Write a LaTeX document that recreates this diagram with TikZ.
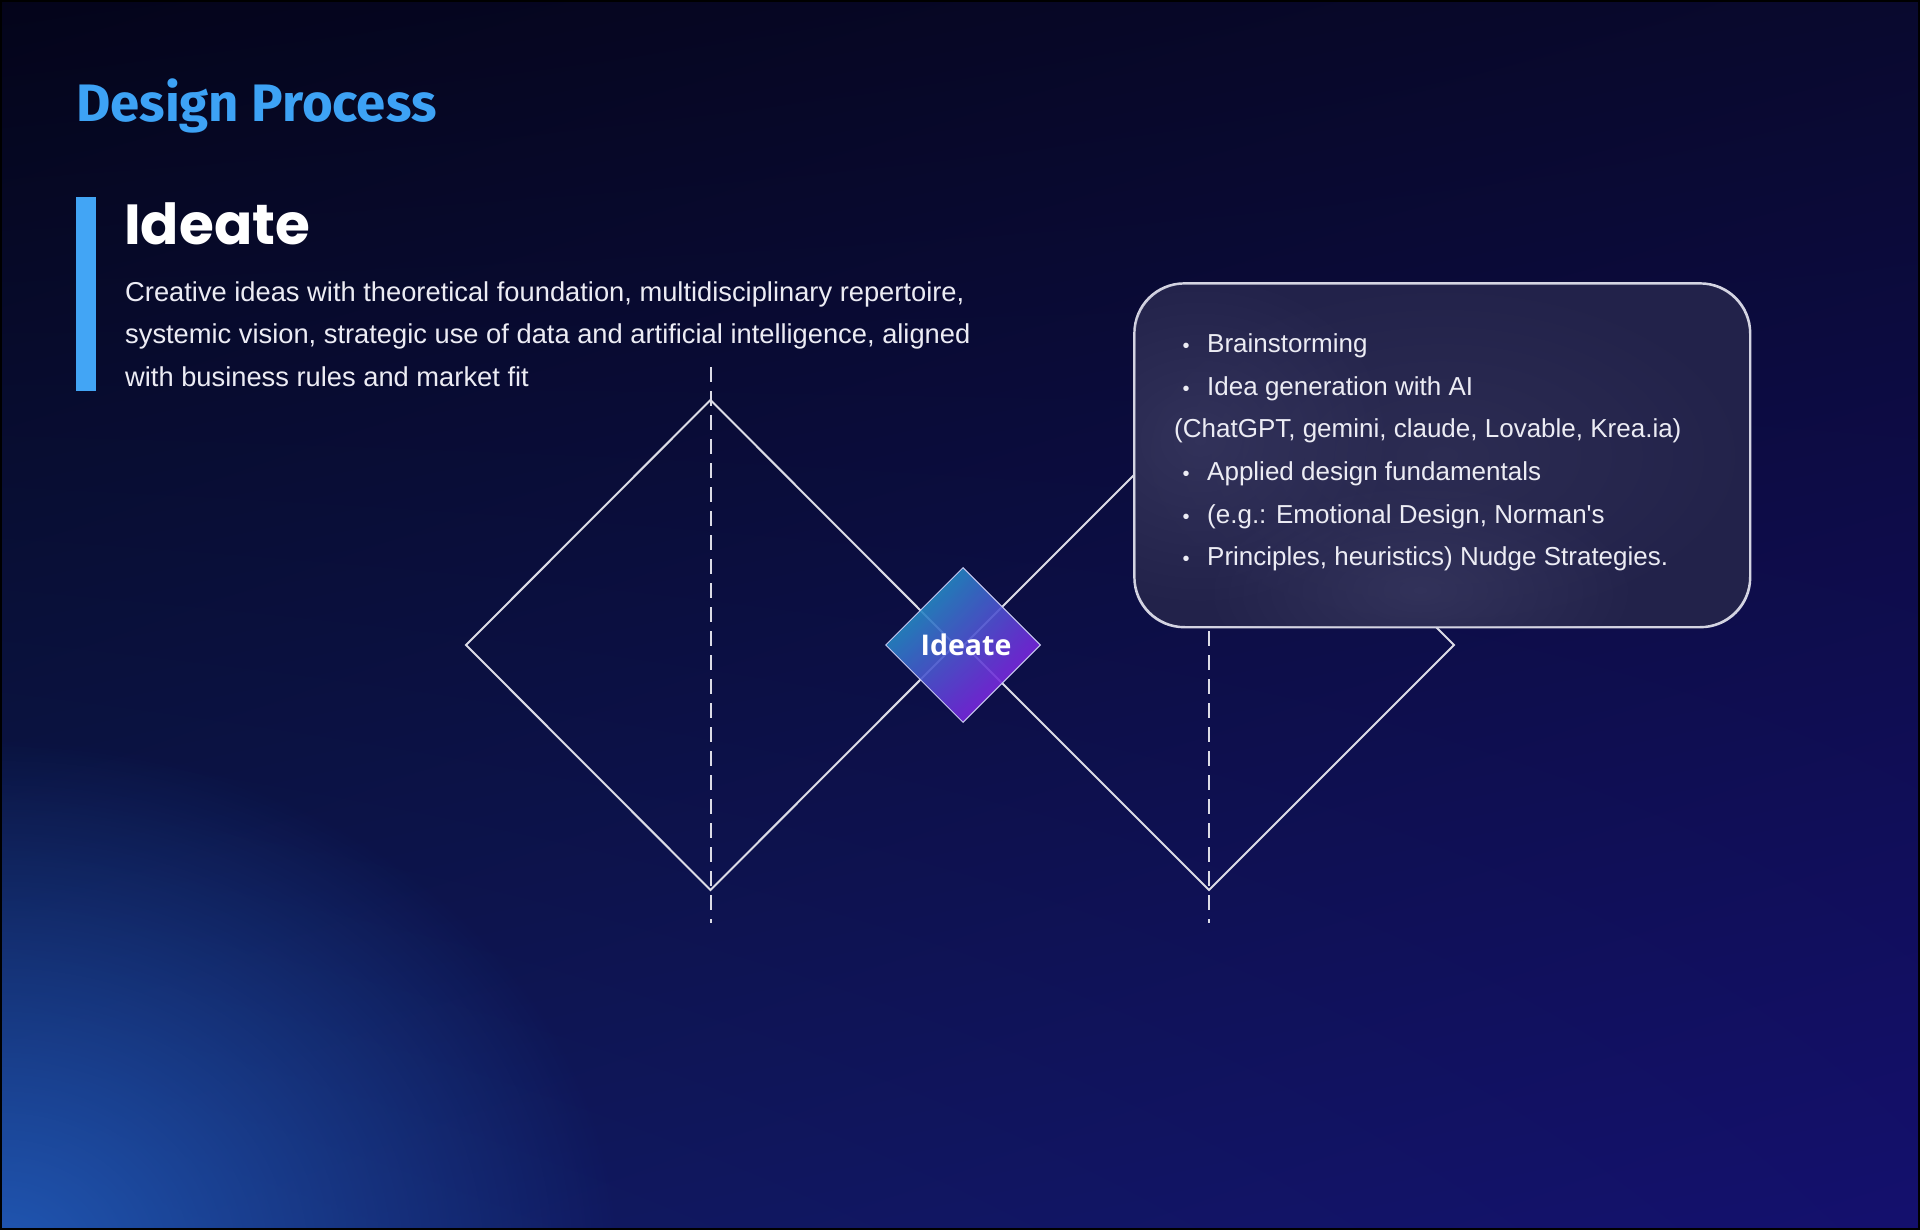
\documentclass[tikz,border=0pt]{standalone}
\usepackage{fontspec}
\setmainfont{Liberation Sans}
\newfontfamily\nomap{Liberation Sans}[Ligatures=TeXOff]
\newfontfamily\titlefont{Fira Sans}
\newfontfamily\headfont{Poppins}
\newfontfamily\tagfont{Open Sans}
\usetikzlibrary{shapes.geometric,fadings,shadings}
\definecolor{bgtl}{HTML}{04041A}
\definecolor{bgtr}{HTML}{09092E}
\definecolor{bgbl}{HTML}{0E1C58}
\definecolor{bgbr}{HTML}{14106E}
\definecolor{glowblue}{HTML}{2462C4}
\definecolor{titleblue}{HTML}{3DA2F5}
\definecolor{barblue}{HTML}{42A5F5}
\definecolor{linegray}{HTML}{DCDCE6}
\definecolor{txt}{HTML}{ECECF4}
\definecolor{boxin}{HTML}{2C2C52}
\definecolor{boxout}{HTML}{22224A}
\definecolor{boxglow}{HTML}{3C3C64}
\definecolor{boxedge}{HTML}{D4D4E2}
\definecolor{dtl}{RGB}{0,190,184}
\definecolor{dmid}{RGB}{76,74,208}
\definecolor{dbr}{RGB}{164,0,232}
\tikzfading[name=glowfade, inner color=transparent!15, outer color=transparent!100]
\tikzfading[name=softfade, inner color=transparent!40, outer color=transparent!100]
\tikzset{
  shapeline/.style={linegray, line width=2pt, line join=miter},
  axisline/.style={linegray, line width=2pt, dash pattern=on 15pt off 9pt},
  desc/.style={anchor=base west, inner sep=0, text=txt, font=\fontsize{27.3}{32}\selectfont},
  item/.style={anchor=base west, inner sep=0, text=txt, font=\fontsize{26}{30}\selectfont},
  dot/.style={anchor=base, inner sep=0, text=txt, font=\fontsize{20}{24}\selectfont},
}
\begin{document}
\begin{tikzpicture}[x=1pt,y=-1pt]
\useasboundingbox (0,0) rectangle (1920,1230);
% background
\shade[upper left=bgtl, upper right=bgtr, lower left=bgbl, lower right=bgbr] (0,0) rectangle (1920,1230);
\begin{scope}
\clip (0,0) rectangle (1920,1230);
\fill[glowblue, path fading=glowfade] (0,1260) ellipse (620pt and 520pt);
\end{scope}
\draw[black, line width=2pt] (1,1) rectangle (1919,1229);

% title
\node[anchor=base west, inner sep=0, text=titleblue, font=\titlefont\bfseries\fontsize{52.7}{60}\selectfont] (title) at (76,122) {Design Process};
\node[anchor=north west, fill=barblue, minimum width=20pt, minimum height=194pt, inner sep=0] (bar) at (76,197) {};
\node[anchor=base west, inner sep=0, text=white, font=\headfont\bfseries\fontsize{56.5}{64}\selectfont] (head) at (124,245) {Ideate};
\node[desc] (d1) at (125,302) {Creative ideas with theoretical foundation, multidisciplinary repertoire,};
\node[desc] (d2) at (125,344) {systemic vision, strategic use of data and artificial intelligence, aligned};
\node[desc] (d3) at (125,387) {with business rules and market fit};

% diamonds
\coordinate (Aw) at (466,645);
\coordinate (An) at (710.5,400);
\coordinate (Ae) at (955,645);
\coordinate (As) at (710.5,890);
\coordinate (Bw) at (964,645);
\coordinate (Bn) at (1209,400);
\coordinate (Be) at (1454,645);
\coordinate (Bs) at (1209,890);
\coordinate (At) at (710.5,367);
\coordinate (Ab) at (710.5,923);
\coordinate (Bt) at (1209,367);
\coordinate (Bb) at (1209,923);
\draw[shapeline] (Aw) -- (An) -- (Ae) -- (As) -- cycle;
\draw[shapeline] (Bw) -- (Bn) -- (Be) -- (Bs) -- cycle;
\draw[axisline] (At) -- (Ab);
\draw[axisline] (Bt) -- (Bb);

% info box
\node[anchor=north west, draw=boxedge, line width=1.6pt, rounded corners=50pt,
      minimum width=615pt, minimum height=343pt, inner sep=0,
      inner color=boxin, outer color=boxout] (box) at (1134,283) {};
\begin{scope}
\clip[rounded corners=50pt] (box.south west) rectangle (box.north east);
\fill[boxglow, path fading=softfade] (1200,440) ellipse (200pt and 170pt);
\fill[boxglow, path fading=softfade] (1420,590) ellipse (220pt and 110pt);
\end{scope}
\draw[boxedge, line width=1.6pt, rounded corners=50pt] (box.south west) rectangle (box.north east);
\node[dot] (b1) at (1186,353) {•};
\node[item] (t1) at (1207,353) {Brainstorming};
\node[dot] (b2) at (1186,395.5) {•};
\node[item] (t2) at (1207,395.5) {Idea generation with AI};
\node[item] (t3) at (1174,438) {(ChatGPT, gemini, claude, Lovable, Krea.ia)};
\node[dot] (b4) at (1186,480.5) {•};
\node[item] (t4) at (1207,480.5) {Applied design fundamentals};
\node[dot] (b5) at (1186,523) {•};
\node[item] (t5) at (1207,523) {(e.g.: Emotional Design, Norman{\nomap'}s};
\node[dot] (b6) at (1186,565.5) {•};
\node[item] (t6) at (1207,565.5) {Principles, heuristics) Nudge Strategies.};

% center tag
\node[diamond, minimum width=155pt, minimum height=155pt, inner sep=0,
      draw=white!70!dmid, line width=1pt, fill opacity=0.9,
      upper left=dtl, upper right=dmid, lower left=dmid, lower right=dbr,
      text opacity=1, text=white, font=\tagfont\bfseries\fontsize{28.5}{32}\selectfont] (tag) at (963,645) {\hspace*{6pt}Ideate};
\end{tikzpicture}
\end{document}
